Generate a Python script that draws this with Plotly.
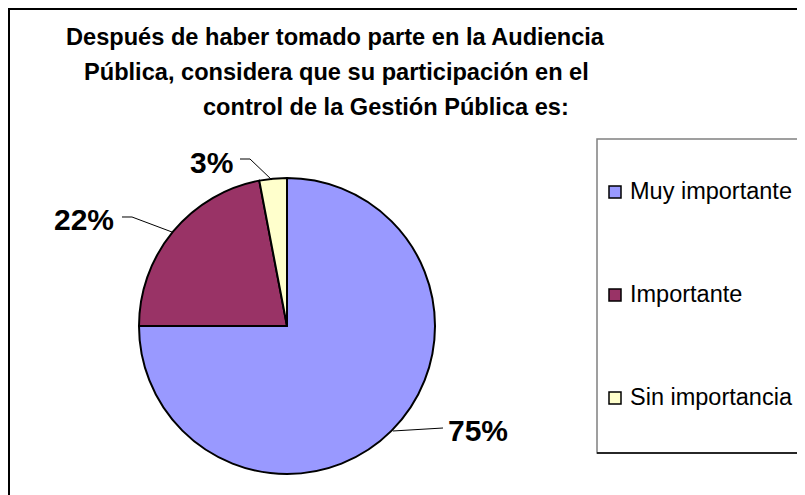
import plotly.graph_objects as go

# Data
labels = ["Muy importante", "Importante", "Sin importancia"]
values = [75, 22, 3]
colors = ["#9999FF", "#993366", "#FFFFCC"]
title_lines = [
    "Después de haber tomado parte en la Audiencia",
    "Pública, considera que su participación en el",
    "control de la Gestión Pública es:",
]

# the page body adds an 8px margin, so the figure is a bit smaller
OFF = 8
W, H = 805 - OFF, 495 - OFF
FONT = "Liberation Sans, Arial, sans-serif"


def px(x):
    # window pixel -> paper fraction
    return (x - OFF) / W


def py(y):
    return 1 - (y - OFF) / H


# pie centre (287, 326), radius 148 in window pixels
cx, cy, r = 287, 326, 148

fig = go.Figure(go.Pie(
    labels=labels,
    values=values,
    marker=dict(colors=colors, line=dict(color="black", width=2)),
    textinfo="none",
    hoverinfo="label+percent",
    sort=False,
    direction="clockwise",
    rotation=0,
    showlegend=False,
    domain=dict(x=[px(cx - r), px(cx + r)], y=[py(cy + r), py(cy - r)]),
))

shapes = []
annotations = []

# chart border (right/bottom edges fall outside the window)
shapes.append(dict(type="rect", xref="paper", yref="paper",
                   x0=px(9), x1=px(812), y0=py(505), y1=py(9),
                   line=dict(color="black", width=2)))

# title lines
title_pos = [(335, 37), (336, 72), (386, 107)]
for line, (tx, ty) in zip(title_lines, title_pos):
    annotations.append(dict(text="<b>%s</b>" % line, x=px(tx), y=py(ty),
                            xref="paper", yref="paper", showarrow=False,
                            xanchor="center", yanchor="middle",
                            font=dict(family=FONT, size=23.6, color="black")))

# percentage labels with leader lines
total = sum(values)
label_pos = [(478, 430), (84, 219), (211, 162)]
leaders = [
    [(393, 431), (443, 428)],
    [(172, 232), (132, 217), (122, 217)],
    [(272, 180), (250, 159), (240, 159)],
]
for v, (lx, ly), pts in zip(values, label_pos, leaders):
    pct = round(v / total * 100)
    annotations.append(dict(text="<b>%d%%</b>" % pct, x=px(lx), y=py(ly),
                            xref="paper", yref="paper", showarrow=False,
                            xanchor="center", yanchor="middle",
                            font=dict(family=FONT, size=30, color="black")))
    path = "M " + " L ".join("%f,%f" % (px(a), py(b)) for a, b in pts)
    shapes.append(dict(type="path", xref="paper", yref="paper", path=path,
                       line=dict(color="black", width=1)))

# legend box
shapes.append(dict(type="rect", xref="paper", yref="paper",
                   x0=px(597), x1=px(799), y0=py(453), y1=py(139),
                   line=dict(color="#808080", width=1.5)))
shapes.append(dict(type="path", xref="paper", yref="paper",
                   path="M %f,%f L %f,%f L %f,%f" % (px(799), py(139), px(799), py(453),
                                                     px(597), py(453)),
                   line=dict(color="black", width=1.5)))

legend_y = [192, 295, 398]
for lab, col, ly in zip(labels, colors, legend_y):
    shapes.append(dict(type="rect", xref="paper", yref="paper",
                       x0=px(609), x1=px(621), y0=py(ly + 6), y1=py(ly - 6),
                       fillcolor=col, line=dict(color="black", width=1.5)))
    annotations.append(dict(text=lab, x=px(628), y=py(ly - 1),
                            xref="paper", yref="paper", showarrow=False,
                            xanchor="left", yanchor="middle",
                            font=dict(family=FONT, size=23.5, color="black")))

fig.update_layout(
    width=W, height=H,
    margin=dict(l=0, r=0, t=0, b=0),
    paper_bgcolor="white",
    plot_bgcolor="white",
    shapes=shapes,
    annotations=annotations,
)

fig.write_html("out.html")
